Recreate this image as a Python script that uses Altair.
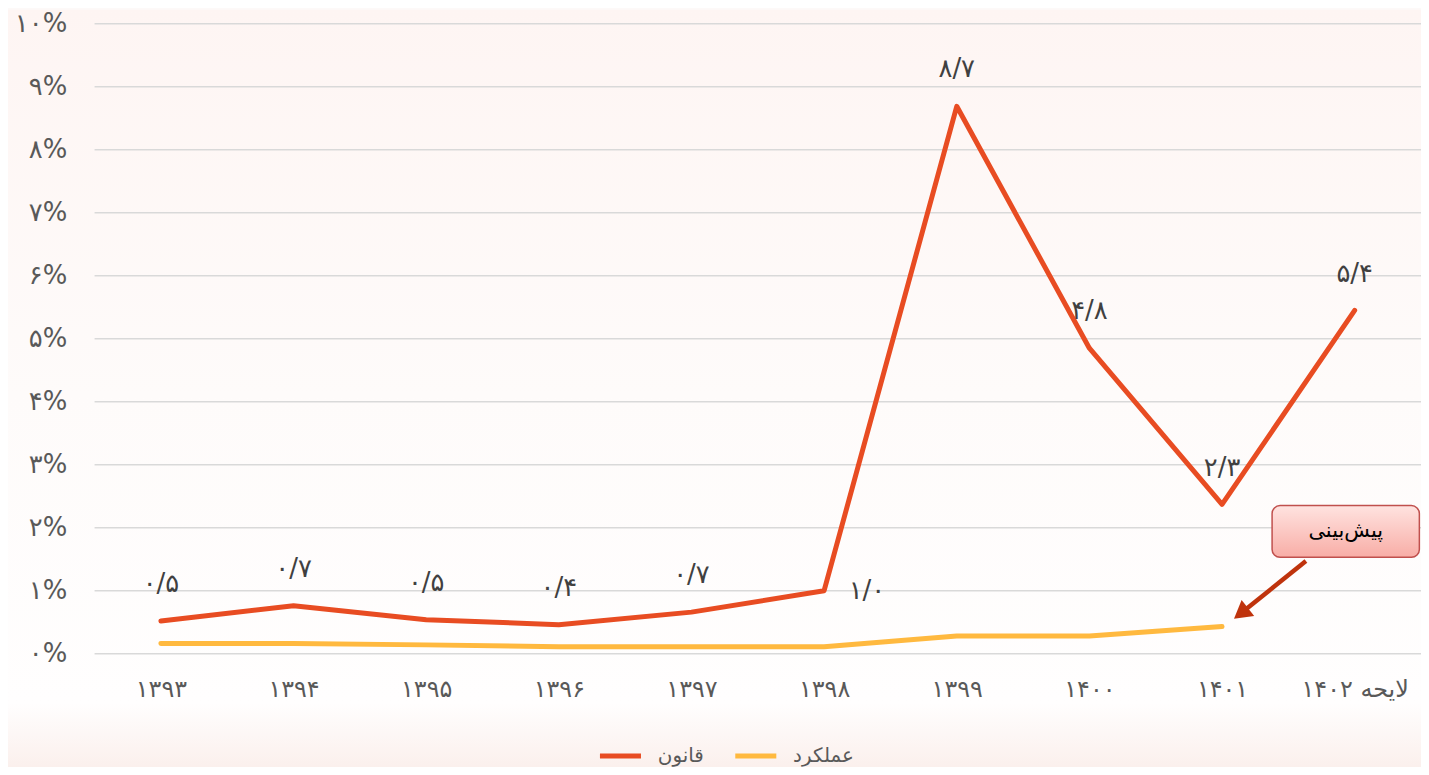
import json
import altair as alt
import pandas as pd

# ---- data ----
years = ["۱۳۹۳", "۱۳۹۴", "۱۳۹۵", "۱۳۹۶", "۱۳۹۷", "۱۳۹۸", "۱۳۹۹", "۱۴۰۰", "۱۴۰۱", "لایحه ۱۴۰۲"]
law = [0.52, 0.76, 0.54, 0.46, 0.66, 1.0, 8.69, 4.85, 2.37, 5.45]
performance = [0.16, 0.16, 0.14, 0.11, 0.11, 0.11, 0.28, 0.28, 0.43, None]
law_labels = ["۰/۵", "۰/۷", "۰/۵", "۰/۴", "۰/۷", "۱/۰", "۸/۷", "۴/۸", "۲/۳", "۵/۴"]
series_names = ["قانون", "عملکرد"]
series_colors = ["#E84C22", "#FFB93F"]
y_ticks = list(range(11))
y_tick_labels = ["۰%", "۱%", "۲%", "۳%", "۴%", "۵%", "۶%", "۷%", "۸%", "۹%", "۱۰%"]
side_label_year = "۱۳۹۸"

annotation_text = "پیش\u200cبینی"
annotation_year = years[-1]
annotation_value = 1.94
arrow_from = (years[-1], 1.47)
arrow_to = (years[-2], 0.64)

FONT = "DejaVu Sans"

rows = []
for y, v in zip(years, law):
    rows.append({"year": y, "series": series_names[0], "value": v})
for y, v in zip(years, performance):
    if v is not None:
        rows.append({"year": y, "series": series_names[1], "value": v})
df = pd.DataFrame(rows)

lab_df = pd.DataFrame({"year": years, "value": law, "label": law_labels})
grid_df = pd.DataFrame({"value": y_ticks})

x_scale = alt.Scale(type="point", padding=0.5, domain=years)
y_scale = alt.Scale(domain=[0, 10], nice=False)

label_expr = json.dumps(y_tick_labels, ensure_ascii=False) + "[datum.value]"

x_enc = alt.X(
    "year:N", sort=years, scale=x_scale,
    axis=alt.Axis(title=None, labelAngle=0, labelFontSize=24, labelColor="#595959",
                  labelFont=FONT, labelPadding=36, ticks=False, tickSize=0, domain=False,
                  grid=False, labelBaseline="middle", zindex=1),
)
y_enc = alt.Y(
    "value:Q", scale=y_scale,
    axis=alt.Axis(title=None, values=y_ticks, labelExpr=label_expr, labelFontSize=26,
                  labelColor="#595959", labelFont=FONT, labelPadding=28, ticks=False,
                  tickSize=0, domain=False, grid=False, zindex=1),
)

# soft page background (decoration only)
bg = alt.Chart(pd.DataFrame({"a": [0]})).mark_rect(
    fill=alt.Gradient(gradient="linear", x1=0, y1=0, x2=0, y2=1,
                      stops=[alt.GradientStop(color="#FEF5F3", offset=0),
                             alt.GradientStop(color="#FEFBFA", offset=0.5),
                             alt.GradientStop(color="#FFFEFE", offset=0.9),
                             alt.GradientStop(color="#FAEDE9", offset=1)]),
).encode(x=alt.value(-87), x2=alt.value(1340), y=alt.value(-14), y2=alt.value(760))

grid = alt.Chart(grid_df).mark_rule(color="#D9D9D9", strokeWidth=1.5).encode(
    y=y_enc,
    x=alt.value(0), x2=alt.value(1333),
)

lines = alt.Chart(df).mark_line(strokeWidth=5, strokeCap="round", strokeJoin="round").encode(
    x=x_enc,
    y=y_enc,
    color=alt.Color(
        "series:N",
        scale=alt.Scale(domain=series_names, range=series_colors),
        sort=series_names,
        legend=alt.Legend(
            title=None, orient="none", legendX=505, legendY=712, direction="horizontal",
            symbolType="stroke", symbolStrokeWidth=5, symbolSize=1700,
            labelFontSize=20, labelColor="#595959", labelFont=FONT,
            labelOffset=14, columnPadding=20,
        ),
    ),
    detail="series:N",
)

labels_top = alt.Chart(lab_df).transform_filter(
    alt.datum.year != side_label_year
).mark_text(fontSize=26, font=FONT, color="#404040", dy=-37).encode(
    x=alt.X("year:N", sort=years, scale=x_scale),
    y=alt.Y("value:Q", scale=y_scale),
    text="label:N",
)

labels_side = alt.Chart(lab_df).transform_filter(
    alt.datum.year == side_label_year
).mark_text(fontSize=26, font=FONT, color="#404040", dx=43).encode(
    x=alt.X("year:N", sort=years, scale=x_scale),
    y=alt.Y("value:Q", scale=y_scale),
    text="label:N",
)

ann_df = pd.DataFrame({"year": [annotation_year], "value": [annotation_value], "label": [annotation_text]})

box = alt.Chart(ann_df).mark_rect(
    width=148, height=52, cornerRadius=8, xOffset=-9,
    fill=alt.Gradient(gradient="linear", x1=0, y1=0, x2=0, y2=1,
                      stops=[alt.GradientStop(color="#FFE3E0", offset=0),
                             alt.GradientStop(color="#F8ADA6", offset=1)]),
    stroke="#C0504D", strokeWidth=1.5,
).encode(
    x=alt.X("year:N", sort=years, scale=x_scale),
    y=alt.Y("value:Q", scale=y_scale),
)

box_text = alt.Chart(ann_df).mark_text(fontSize=21, font=FONT, color="#000000", xOffset=-9).encode(
    x=alt.X("year:N", sort=years, scale=x_scale),
    y=alt.Y("value:Q", scale=y_scale),
    text="label:N",
)

arrow_df = pd.DataFrame({
    "year": [arrow_from[0]], "value": [arrow_from[1]],
    "year2": [arrow_to[0]], "value2": [arrow_to[1]],
})

arrow_line = alt.Chart(arrow_df).mark_rule(
    strokeWidth=4.5, color="#BF330C", xOffset=-49, x2Offset=19,
).encode(
    x=alt.X("year:N", sort=years, scale=x_scale),
    y=alt.Y("value:Q", scale=y_scale),
    x2="year2:N",
    y2="value2:Q",
)

arrow_head = alt.Chart(arrow_df).mark_point(
    shape="triangle-up", filled=True, size=420, angle=232, color="#BF330C",
    opacity=1, xOffset=19,
).encode(
    x=alt.X("year2:N", sort=years, scale=x_scale),
    y=alt.Y("value2:Q", scale=y_scale),
)

chart = alt.layer(
    bg, grid, lines, labels_top, labels_side, box, box_text, arrow_line, arrow_head
).properties(
    width=1333, height=633,
    autosize=alt.AutoSizeParams(type="none"),
    padding={"left": 87, "top": 14, "right": 0, "bottom": 112},
    background="#FDF9F8",
).configure_view(stroke=None)

chart.save("out.html", embed_options={"renderer": "svg", "actions": False})
